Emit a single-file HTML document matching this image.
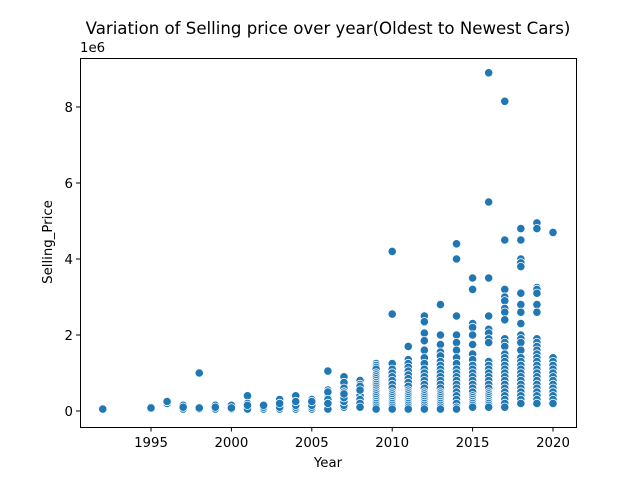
<!DOCTYPE html>
<html><head><meta charset="utf-8"><style>
body{margin:0;background:#fff}
svg text{font-family:"DejaVu Sans","Liberation Sans",sans-serif;fill:#000}
</style></head><body>
<svg id="chart" width="640" height="480" xmlns="http://www.w3.org/2000/svg">
<rect x="0" y="0" width="640" height="480" fill="#fff"/>
<text x="328" y="34" font-size="16.6" text-anchor="middle">Variation of Selling price over year(Oldest to Newest Cars)</text>
<text x="80" y="52" font-size="13.3">1e6</text>
<text x="328" y="467" font-size="13.3" text-anchor="middle">Year</text>
<text x="0" y="0" font-size="13.3" text-anchor="middle" transform="translate(52,242) rotate(-90)">Selling_Price</text>
<g id="marks"></g>
<g id="ticks"></g>
<rect x="80.5" y="58.5" width="496" height="369" fill="none" stroke="#000" stroke-width="1"/>
</svg>
<script>
const years = [1992,1995,1996,1997,1998,1999,2000,2001,2002,2003,2004,2005,2006,2007,2008,2009,2010,2011,2012,2013,2014,2015,2016,2017,2018,2019,2020];
const prices = [
[0.05],[0.08],[0.2,0.25],[0.05,0.15,0.1],[1.0,0.05,0.08],[0.05,0.15,0.1],[0.05,0.1,0.15,0.08],
[0.4,0.2,0.1,0.05,0.15],[0.05,0.1,0.15],[0.05,0.1,0.3,0.2],[0.05,0.1,0.2,0.3,0.4,0.15,0.25],
[0.05,0.1,0.2,0.3,0.15,0.25],
[1.05,0.55,0.45,0.35,0.25,0.15,0.1,0.05,0.5,0.3,0.2],
[0.9,0.75,0.6,0.5,0.4,0.3,0.2,0.1,0.15,0.25,0.35,0.45],
[0.8,0.7,0.6,0.5,0.4,0.3,0.2,0.1,0.65,0.55],
[1.25,1.2,1.15,1.1,1.0,0.95,0.9,0.85,0.8,0.75,0.7,0.65,0.6,0.55,0.5,0.45,0.4,0.35,0.3,0.25,0.2,0.15,0.1,0.05],
[4.2,2.55,1.25,1.1,1.0,0.9,0.8,0.7,0.6,0.5,0.45,0.4,0.35,0.3,0.25,0.2,0.15,0.1,0.05],
[1.7,1.35,1.25,1.15,1.05,0.95,0.85,0.75,0.65,0.55,0.5,0.45,0.4,0.35,0.3,0.25,0.2,0.15,0.1,0.05],
[2.5,2.35,2.05,1.85,1.6,1.4,1.25,1.1,1.0,0.9,0.8,0.7,0.6,0.5,0.45,0.4,0.35,0.3,0.25,0.2,0.15,0.1,0.05],
[2.8,2.0,1.75,1.55,1.45,1.3,1.2,1.1,1.0,0.9,0.8,0.7,0.6,0.5,0.45,0.4,0.35,0.3,0.25,0.2,0.15,0.1,0.05],
[4.4,4.0,2.5,2.0,1.8,1.6,1.4,1.25,1.1,1.0,0.9,0.8,0.7,0.6,0.5,0.4,0.3,0.2,0.1,0.05],
[3.5,3.2,2.3,2.2,2.0,1.75,1.5,1.35,1.2,1.1,1.0,0.9,0.8,0.7,0.6,0.5,0.4,0.35,0.3,0.25,0.2,0.15,0.1],
[8.9,5.5,3.5,2.5,2.15,2.05,1.9,1.8,1.3,1.2,1.1,1.0,0.9,0.8,0.7,0.6,0.5,0.45,0.4,0.35,0.3,0.25,0.2,0.15,0.1],
[8.15,4.5,3.2,3.0,2.9,2.7,2.6,2.4,1.9,1.8,1.7,1.5,1.4,1.3,1.2,1.1,1.0,0.9,0.8,0.7,0.6,0.5,0.4,0.3,0.2,0.1],
[4.8,4.5,4.0,3.9,3.8,3.1,2.8,2.6,2.3,2.0,1.9,1.8,1.6,1.4,1.3,1.2,1.1,1.0,0.9,0.8,0.7,0.6,0.5,0.4,0.3,0.2],
[4.95,4.8,3.25,3.2,3.1,2.8,2.6,1.9,1.8,1.7,1.6,1.5,1.4,1.3,1.2,1.1,1.0,0.9,0.8,0.7,0.6,0.5,0.4,0.3,0.2],
[4.7,1.4,1.3,1.2,1.1,1.0,0.9,0.8,0.7,0.6,0.5,0.4,0.3,0.2]
];
const xTicks = [1995,2000,2005,2010,2015,2020];
const yTicks = [0,2,4,6,8];

const NS = "http://www.w3.org/2000/svg";
function xs(v){ return 151 + (v-1995)*(553-151)/25; }
function ys(v){ return 411 - v*38; }

const marks = document.getElementById('marks');
years.forEach((yr,i)=>{
  prices[i].forEach(p=>{
    const c = document.createElementNS(NS,'circle');
    c.setAttribute('cx', xs(yr));
    c.setAttribute('cy', ys(p));
    c.setAttribute('r', 4.2);
    c.setAttribute('fill', '#1f77b4');
    c.setAttribute('stroke', '#fff');
    c.setAttribute('stroke-width', 0.8);
    
    
    marks.appendChild(c);
  });
});

const ticks = document.getElementById('ticks');
xTicks.forEach(t=>{
  const l = document.createElementNS(NS,'line');
  l.setAttribute('x1', xs(t)); l.setAttribute('x2', xs(t));
  l.setAttribute('y1', 427); l.setAttribute('y2', 431.5);
  l.setAttribute('stroke', '#000');
  
  
  ticks.appendChild(l);
  const tx = document.createElementNS(NS,'text');
  tx.setAttribute('x', xs(t)); tx.setAttribute('y', 447);
  tx.setAttribute('font-size', '13.3'); tx.setAttribute('text-anchor', 'middle');
  tx.textContent = t;
  
  
  ticks.appendChild(tx);
});
yTicks.forEach(t=>{
  const l = document.createElementNS(NS,'line');
  l.setAttribute('x1', 76); l.setAttribute('x2', 80.5);
  l.setAttribute('y1', ys(t)); l.setAttribute('y2', ys(t));
  l.setAttribute('stroke', '#000');
  
  
  ticks.appendChild(l);
  const tx = document.createElementNS(NS,'text');
  tx.setAttribute('x', 73); tx.setAttribute('y', ys(t)+5);
  tx.setAttribute('font-size', '13.3'); tx.setAttribute('text-anchor', 'end');
  tx.textContent = t;
  
  
  ticks.appendChild(tx);
});
</script>
</body></html>
